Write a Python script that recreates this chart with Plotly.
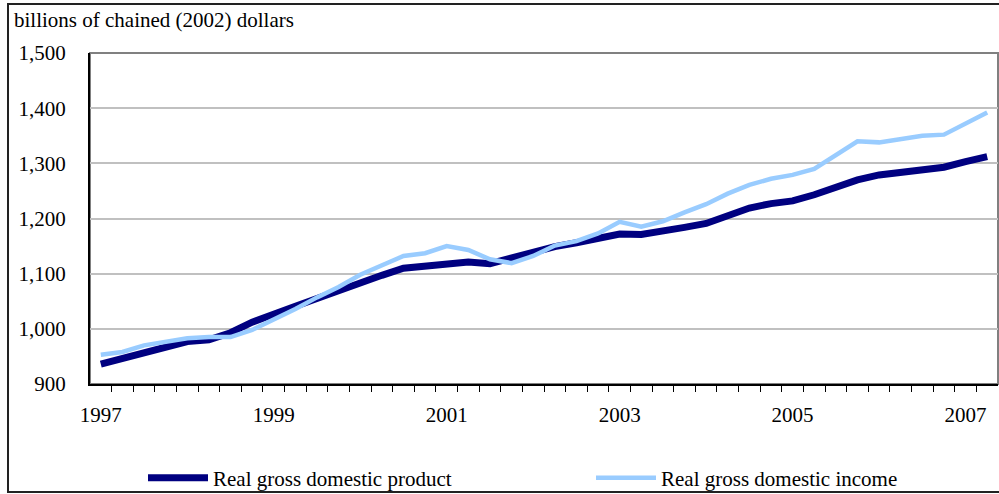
import plotly.graph_objects as go

# quarterly categories 1997Q1 .. 2007Q2
quarters = [f"{y}Q{q}" for y in range(1997, 2008) for q in range(1, 5)][:42]

gdp = [936, 946, 957, 966, 977, 980, 993, 1012, 1028, 1041, 1055, 1070,
       1085, 1097, 1110, 1113, 1118, 1121, 1118, 1128, 1141, 1149, 1156, 1165,
       1172, 1171, 1176, 1184, 1191, 1206, 1219, 1227, 1232, 1243, 1257, 1270,
       1279, 1283, 1288, 1293, 1303, 1312]

gdi = [953, 958, 970, 977, 983, 985, 985, 998, 1016, 1036, 1057, 1076,
       1098, 1114, 1132, 1137, 1150, 1143, 1126, 1119, 1132, 1151, 1159, 1173,
       1194, 1185, 1195, 1211, 1226, 1245, 1261, 1272, 1279, 1290, 1315, 1340,
       1338, 1345, 1350, 1352, 1371, 1392]

year_ticks = ["1997Q1", "1999Q1", "2001Q1", "2003Q1", "2005Q1", "2007Q1"]
year_labels = ["1997", "1999", "2001", "2003", "2005", "2007"]

y_title = "billions of chained (2002) dollars"
names = ["Real gross domestic product", "Real gross domestic income"]

xi = list(range(len(quarters)))
pos = {q: i for i, q in enumerate(quarters)}
# tick marks sit on the boundaries between quarters
boundaries = [i + 0.5 for i in xi[:-1]]

FONT = "Liberation Serif"
FS = 21
XRANGE = [-0.5, len(quarters) - 0.5]

fig = go.Figure()
fig.add_trace(go.Scatter(x=xi, y=gdp, mode="lines", name=names[0],
                         line=dict(color="#000080", width=7),
                         customdata=quarters, legend="legend",
                         xaxis="x", yaxis="y"))
fig.add_trace(go.Scatter(x=xi, y=gdi, mode="lines", name=names[1],
                         line=dict(color="#99CCFF", width=4.5),
                         customdata=quarters, legend="legend2",
                         xaxis="x2", yaxis="y"))

legend_common = dict(orientation="h", yref="container", xref="container",
                     y=1 - 478 / 494, xanchor="left", yanchor="middle",
                     itemwidth=60, bgcolor="rgba(0,0,0,0)",
                     font=dict(family=FONT, size=FS, color="black"))

fig.update_layout(
    width=999, height=494,
    margin=dict(l=90, r=1, t=53, b=110),
    paper_bgcolor="white", plot_bgcolor="white",
    font=dict(family=FONT, size=FS, color="black"),
    showlegend=True,
    legend=dict(x=143 / 999, **legend_common),
    legend2=dict(x=591 / 999, **legend_common),
    xaxis=dict(
        range=XRANGE,
        tickmode="array",
        tickvals=boundaries,
        ticktext=["" for _ in boundaries],
        ticks="outside", ticklen=6, tickcolor="black", tickwidth=1,
        showgrid=False, zeroline=False,
        showline=True, linecolor="black", linewidth=2,
    ),
    xaxis2=dict(
        range=XRANGE, overlaying="x", anchor="y", side="bottom",
        tickmode="array",
        tickvals=[pos[q] for q in year_ticks],
        ticktext=year_labels,
        ticks="", ticklabelstandoff=16,
        showgrid=False, zeroline=False, showline=False,
        tickfont=dict(family=FONT, size=FS),
    ),
    yaxis=dict(
        range=[900, 1500], dtick=100, tick0=900,
        tickformat=",d",
        showgrid=True, gridcolor="#C0C0C0", gridwidth=2,
        zeroline=False,
        showline=True, linecolor="black", linewidth=2,
        ticks="", ticklabelstandoff=18,
        tickfont=dict(family=FONT, size=FS),
    ),
    shapes=[
        dict(type="rect", xref="paper", yref="paper", x0=0, x1=1, y0=0, y1=1,
             line=dict(color="#808080", width=2), layer="below"),
        dict(type="rect", xref="paper", yref="paper",
             x0=(8 - 90) / 908, x1=(1010 - 90) / 908,
             y0=(384 - 492) / 331, y1=(384 - 4) / 331,
             line=dict(color="#222222", width=2), layer="below"),
    ],
    annotations=[
        dict(text=y_title, xref="paper", yref="paper",
             x=(12 - 90) / 908, y=(384 - 20) / 331,
             xanchor="left", yanchor="middle", showarrow=False,
             font=dict(family=FONT, size=FS, color="black")),
    ],
)

fig.write_html("out.html",
               config={"displayModeBar": False},
               post_script="document.body.style.margin='0';"
                           "document.body.style.overflow='hidden';")
